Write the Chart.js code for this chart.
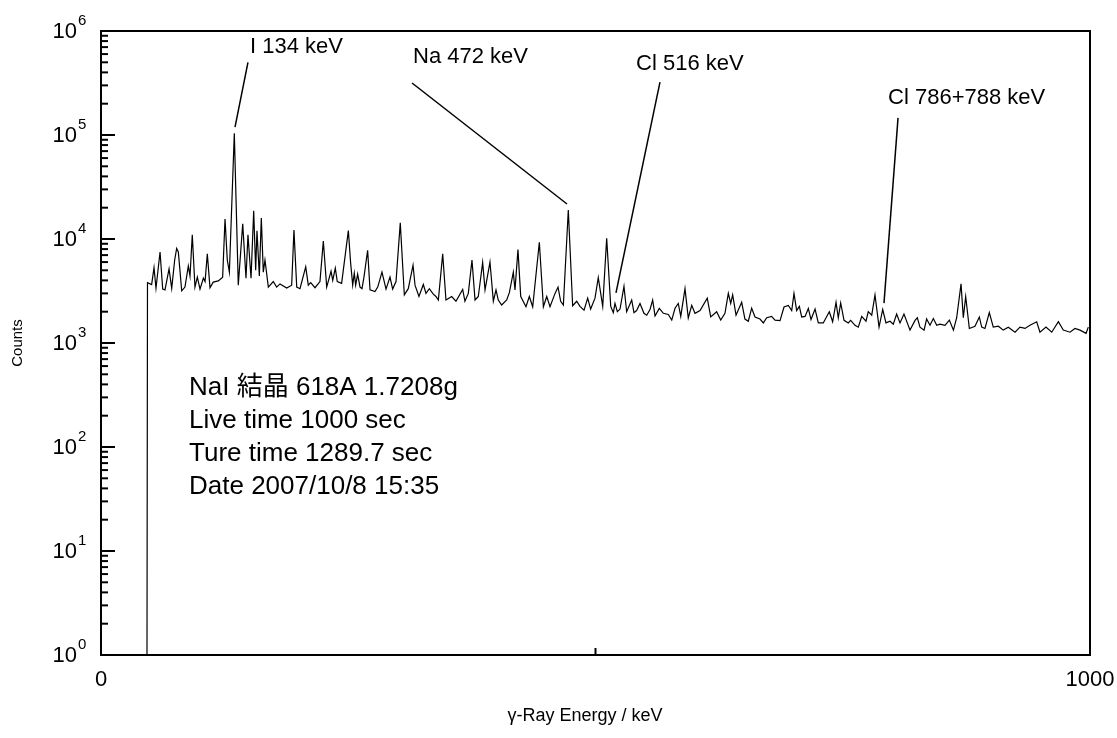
<!DOCTYPE html>
<html>
<head>
<meta charset="utf-8">
<script src="https://cdn.jsdelivr.net/npm/chart.js@4.4.1/dist/chart.umd.min.js"></script>
<style>
  body { margin: 0; background: #fff; }
  #spectrum { display: block; }
</style>
</head>
<body>
<canvas id="spectrum" width="1117" height="738"></canvas>
<script>
// gamma-ray spectrum, values (keV, counts)
const energyKeV = [
  46.5, 47, 51.2, 53.6, 55.6, 59.7, 62.4, 64.7, 68.8, 71.5, 74.5, 76.5, 78.2, 81.6, 84.9, 88.3, 90, 92.3, 95, 97.4,
  100.1, 103.5, 105.2, 107.5, 110.2, 113.5, 118.6, 123, 125.4, 127.7, 129.8, 134.8, 138.8, 143.3, 146.6, 148.6, 151.7, 154.4, 156.4, 157.7,
  160.1, 162.1, 164.1, 165.8, 169.2, 174.2, 177.6, 181, 187.8, 192.8, 195.1, 197.9, 201.2, 207, 209.6, 212, 216.4, 221.4, 224.8, 228.2,
  232.6, 234.3, 236.9, 238.9, 243.3, 250.1, 252.4, 254.5, 256.1, 257.5, 259.5, 261.9, 263.9, 265.9, 269.6, 272, 277, 279.8, 284.1, 288.2,
  292.2, 294.9, 298.3, 302.6, 306.7, 310.7, 315.5, 317.5, 321.5, 325.9, 328.6, 332, 336, 338.7, 341.1, 345.5, 348.8, 354.6, 358.9, 365.7,
  368, 371.4, 375.1, 378.2, 381.5, 385.9, 388.3, 393.3, 396.7, 399.4, 401.7, 405.1, 410.2, 412.9, 416.9, 418.6, 421.6, 424.4, 429.7, 433.1,
  436.5, 443.2, 447.3, 450.7, 454, 459.1, 462.1, 464.8, 467.5, 472.5, 476.9, 481, 484.3, 488.4, 492.1, 495.1, 499.5, 502.8, 507.3, 511.3,
  515.4, 518, 519.7, 522.1, 524.8, 528.8, 531.5, 536.6, 538.9, 541.6, 545, 549, 551.8, 555.1, 557.8, 560.2, 564.5, 568.6, 573.6, 577.1,
  580.4, 583.7, 586.2, 590.5, 593.8, 597.3, 600.6, 605.7, 613, 616.5, 622.5, 626.6, 630.9, 634.3, 636.7, 638.7, 642.1, 647.8, 651.1, 654.5,
  657.9, 661.3, 666.3, 669.7, 673.1, 678.1, 681.5, 686.6, 690.6, 695, 698.4, 700.7, 703.4, 706.1, 708.5, 711.9, 715.2, 717.9, 722, 725.3,
  730.3, 736.4, 739.8, 743.2, 745.5, 747.9, 751.3, 755.6, 758, 762.4, 765.7, 769.2, 773.5, 775.8, 779.3, 782.6, 786.7, 790.4, 793.7, 797.8,
  801.1, 804.5, 807.9, 811.9, 818, 823.1, 825.4, 828.1, 832.2, 834.8, 838.2, 841.6, 845, 848.3, 853.4, 857.8, 861.9, 865.2, 869.6, 871.9,
  874.3, 878, 883.7, 888.1, 890.5, 893.8, 898.2, 902.2, 907.3, 912.3, 917.4, 924.2, 929.2, 934.3, 939.3, 946.1, 949.4, 955.5, 961.3, 968,
  973, 979.8, 984.8, 989.9, 996, 998.3
];

const counts = [
  1, 3800, 3650, 5300, 3360, 7500, 3300, 3240, 5150, 3350, 6280, 8100, 7500, 3170, 3450, 5500, 4400, 11000, 3450, 4300,
  3300, 4200, 3900, 7200, 3400, 3850, 3950, 4300, 15600, 6280, 4800, 104000, 3600, 14000, 4200, 11000, 4200, 18700, 5000, 12000,
  4400, 15900, 4800, 6280, 3450, 3900, 3450, 3700, 3370, 3600, 12200, 3450, 3330, 5400, 3600, 3800, 3400, 3900, 9550, 3450,
  4900, 4000, 5250, 3900, 3750, 12050, 5900, 3600, 4700, 3600, 4600, 3450, 3330, 4300, 7800, 3240, 3120, 3450, 4800, 3300,
  4300, 3300, 3900, 14300, 2900, 3330, 5600, 3600, 2800, 3650, 3000, 3330, 2950, 2800, 2590, 7200, 2590, 2800, 2520, 3280,
  2520, 3000, 6280, 2590, 2800, 5950, 3240, 6000, 2520, 3240, 2590, 2320, 2590, 3050, 4800, 3240, 7900, 2800, 2230, 2800,
  2230, 9300, 2230, 2800, 2230, 3000, 3450, 2520, 2320, 19000, 2280, 2520, 2250, 2070, 2700, 2120, 2700, 4250, 2250, 10150,
  2250, 1960, 2400, 2000, 2120, 3500, 2000, 2590, 1960, 2050, 2400, 1930, 1850, 2100, 2590, 1820, 2150, 1930, 1880, 1660,
  2160, 2400, 1800, 3330, 1740, 2300, 1930, 2050, 2700, 1780, 2000, 1660, 1930, 3000, 2400, 2900, 1850, 2460, 1700, 1620,
  2160, 1780, 1700, 1560, 1750, 1800, 1660, 1640, 2220, 2300, 2050, 3000, 2050, 2250, 1780, 1800, 2150, 1680, 2120, 1560,
  1560, 2000, 1600, 2460, 1750, 2430, 1650, 1560, 1650, 1480, 1420, 1800, 1620, 2000, 1850, 2900, 1420, 2100, 1560, 1620,
  1520, 1900, 1560, 1900, 1330, 1650, 1750, 1420, 1330, 1700, 1480, 1720, 1480, 1520, 1480, 1660, 1330, 1750, 3700, 1750,
  2800, 1380, 1450, 1780, 1420, 1380, 1960, 1420, 1450, 1330, 1420, 1270, 1420, 1380, 1480, 1600, 1270, 1420, 1270, 1600,
  1330, 1270, 1380, 1330, 1240, 1420
];

const yDecades = [0, 1, 2, 3, 4, 5, 6];
const xTickValues = [0, 500, 1000];
const xTickLabels = ["0", "", "1000"];

const peakLabels = ["I 134 keV", "Na 472 keV", "Cl 516 keV", "Cl 786+788 keV"];

const infoLines = [
  "NaI 結晶 618A 1.7208g",
  "Live time 1000 sec",
  "Ture time 1289.7 sec",
  "Date 2007/10/8 15:35"
];

// leader lines, in keV / counts: text anchor, line start, line end
const peakNotes = [
  { text: [150.7, 7.0e5], from: [148.6, 5.0e5], to: [135.5, 1.19e5] },
  { text: [315.5, 5.6e5], from: [314.5, 3.16e5], to: [471.2, 2.17e4] },
  { text: [541, 4.8e5], from: [565.2, 3.23e5], to: [520.7, 3030] },
  { text: [795.8, 2.27e5], from: [805.9, 1.46e5], to: [791.7, 2420] }
];

const points = energyKeV.map((e, i) => ({ x: e, y: counts[i] }));

const FONT = "'Liberation Sans', Arial, 'Noto Sans CJK JP', sans-serif";

const axesPlugin = {
  id: "axesPlugin",
  beforeDraw(chart) {
    const ctx = chart.ctx;
    ctx.save();
    ctx.fillStyle = "#fff";
    ctx.fillRect(0, 0, chart.width, chart.height);
    ctx.restore();
  },
  afterDatasetsDraw(chart) {
    const ctx = chart.ctx;
    const area = chart.chartArea;
    const xs = chart.scales.x;
    const ys = chart.scales.y;

    ctx.save();
    ctx.strokeStyle = "#000";
    ctx.fillStyle = "#000";
    ctx.lineWidth = 2;
    ctx.strokeRect(area.left, area.top, area.right - area.left, area.bottom - area.top);

    // y ticks (inward)
    yDecades.forEach((d) => {
      const y = ys.getPixelForValue(Math.pow(10, d));
      ctx.beginPath();
      ctx.moveTo(area.left, y);
      ctx.lineTo(area.left + 14, y);
      ctx.stroke();

      if (d < 6) {
        for (let m = 2; m <= 9; m++) {
          const ym = ys.getPixelForValue(m * Math.pow(10, d));
          ctx.beginPath();
          ctx.moveTo(area.left, ym);
          ctx.lineTo(area.left + 7, ym);
          ctx.stroke();
        }
      }

      ctx.textBaseline = "middle";
      ctx.textAlign = "right";
      ctx.font = "22px " + FONT;
      ctx.fillText("10", 77, y + 1);
      ctx.textAlign = "left";
      ctx.font = "15px " + FONT;
      ctx.fillText(String(d), 78, y - 10);
    });

    // x ticks
    xTickValues.forEach((v, i) => {
      const x = xs.getPixelForValue(v);
      const len = xTickLabels[i] ? 14 : 7;
      ctx.beginPath();
      ctx.moveTo(x, area.bottom);
      ctx.lineTo(x, area.bottom - len);
      ctx.stroke();
      if (xTickLabels[i]) {
        ctx.font = "22px " + FONT;
        ctx.textAlign = "center";
        ctx.textBaseline = "middle";
        ctx.fillText(xTickLabels[i], x, area.bottom + 25);
      }
    });

    // axis titles
    ctx.font = "18px " + FONT;
    ctx.textAlign = "center";
    ctx.textBaseline = "middle";
    ctx.fillText("γ-Ray Energy / keV", 585, 716);
    ctx.save();
    ctx.translate(18, 343);
    ctx.rotate(-Math.PI / 2);
    ctx.font = "15px " + FONT;
    ctx.fillText("Counts", 0, 0);
    ctx.restore();

    // peak labels with leader lines
    ctx.lineWidth = 1.5;
    peakNotes.forEach((n, i) => {
      ctx.beginPath();
      ctx.moveTo(xs.getPixelForValue(n.from[0]), ys.getPixelForValue(n.from[1]));
      ctx.lineTo(xs.getPixelForValue(n.to[0]), ys.getPixelForValue(n.to[1]));
      ctx.stroke();
      ctx.font = "22px " + FONT;
      ctx.textAlign = "left";
      ctx.textBaseline = "middle";
      ctx.fillText(peakLabels[i], xs.getPixelForValue(n.text[0]), ys.getPixelForValue(n.text[1]));
    });

    // sample info
    ctx.font = "26px " + FONT;
    const infoX = xs.getPixelForValue(89);
    const infoY = ys.getPixelForValue(369);
    infoLines.forEach((line, i) => {
      ctx.fillText(line, infoX, infoY + i * 33);
    });

    ctx.restore();
  }
};

new Chart(document.getElementById("spectrum"), {
  type: "line",
  data: {
    datasets: [
      {
        data: points,
        borderColor: "#000",
        borderWidth: 1.2,
        pointRadius: 0,
        tension: 0,
        fill: false
      }
    ]
  },
  options: {
    responsive: false,
    animation: false,
    layout: {
      padding: { left: 101, top: 31, right: 27, bottom: 83 }
    },
    plugins: {
      legend: { display: false },
      tooltip: { enabled: false }
    },
    scales: {
      x: { type: "linear", min: 0, max: 1000, display: false },
      y: { type: "logarithmic", min: 1, max: 1e6, display: false }
    }
  },
  plugins: [axesPlugin]
});
</script>
</body>
</html>
